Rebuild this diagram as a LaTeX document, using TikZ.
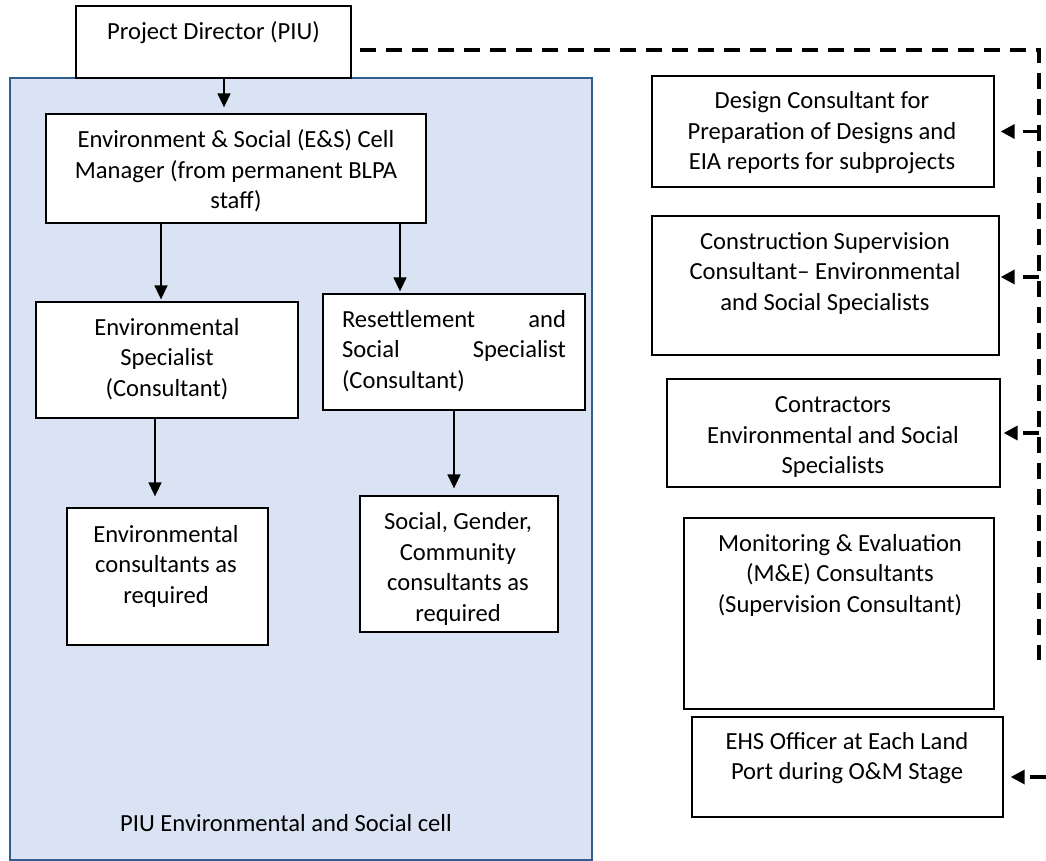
\documentclass[tikz,border=0pt]{standalone}
\usepackage{fontspec}
\setmainfont{Carlito}
\usetikzlibrary{arrows.meta}
\definecolor{cellfill}{RGB}{218,227,243}
\definecolor{celledge}{RGB}{52,92,145}

\begin{document}
\begin{tikzpicture}[x=1pt,y=-1pt,
  box/.style={draw=black, line width=1.3pt, fill=white, inner sep=0pt},
  txt/.style={align=center, inner sep=0pt, font=\fontsize{24.6}{30.5}\selectfont},
  solidarrow/.style={line width=1.5pt, -{Triangle[length=14pt,width=13pt]}},
  dashline/.style={line width=3.3pt, dash pattern=on 16pt off 10pt},
  dasharrow/.style={dashline, -{Triangle[length=14pt,width=14pt]}}]
\useasboundingbox (0,0) rectangle (1046,861);

% PIU environmental and social cell (shaded container)
\node[draw=celledge, fill=cellfill, line width=1.6pt, inner sep=0pt,
      minimum width=582, minimum height=782] (cell) at (301,469) {};
\node[txt] (celllabel) at (286,823) {PIU Environmental and Social cell};

% Project director
\node[box, minimum width=275, minimum height=72] (pd) at (213.5,42) {};
\node[txt] (pdt) at (213.5,33) {Project Director (PIU)};

% Cell hierarchy
\node[box, minimum width=380, minimum height=109] (mgr) at (236,168.5) {};
\node[txt] (mgrt) at (236,171) {Environment \& Social (E\&S) Cell\\Manager (from permanent BLPA\\staff)};

\node[box, minimum width=262, minimum height=116] (envs) at (167,360) {};
\node[txt] (envst) at (167,359) {Environmental\\Specialist\\(Consultant)};

\node[box, minimum width=262, minimum height=116] (res) at (454,352) {};
\node[txt, align=left, text width=224pt] (rest) at (454,351)
  {Resettlement\hfill and\\Social\hfill Specialist\\(Consultant)};

\node[box, minimum width=201, minimum height=137] (envc) at (167.5,576.5) {};
\node[txt] (envct) at (166,566) {Environmental\\consultants as\\required};

\node[box, minimum width=198, minimum height=136] (soc) at (459,564) {};
\node[txt] (soct) at (458,569) {Social, Gender,\\Community\\consultants as\\required};

% Consultants outside the cell
\node[box, minimum width=342, minimum height=111] (des) at (823,131.5) {};
\node[txt] (dest) at (822,133) {Design Consultant for\\Preparation of Designs and\\EIA reports for subprojects};

\node[box, minimum width=347, minimum height=139] (con) at (825.5,285.5) {};
\node[txt] (cont) at (825,273) {Construction Supervision\\Consultant-- Environmental\\and Social Specialists};

\node[box, minimum width=333, minimum height=108] (ctr) at (833.5,433) {};
\node[txt] (ctrt) at (833,437) {Contractors\\Environmental and Social\\Specialists};

\node[box, minimum width=310, minimum height=191] (me) at (839,613.5) {};
\node[txt] (met) at (840,575) {Monitoring \& Evaluation\\(M\&E) Consultants\\(Supervision Consultant)};

\node[box, minimum width=311, minimum height=100] (ehs) at (847.5,767) {};
\node[txt] (ehst) at (847,758) {EHS Officer at Each Land\\Port during O\&M Stage};

% Reporting lines inside the cell
\draw[solidarrow, shorten >=6pt] ([xshift=10.5pt]pd.south) -- ([xshift=-12pt]mgr.north);
\draw[solidarrow, shorten >=2pt] ([xshift=-75pt]mgr.south) -- ([xshift=-6pt]envs.north);
\draw[solidarrow, shorten >=2pt] ([xshift=164pt]mgr.south) -- ([xshift=-54pt]res.north);
\draw[solidarrow, shorten >=11pt] ([xshift=-12pt]envs.south) -- ([xshift=-12.5pt]envc.north);
\draw[solidarrow, shorten >=7pt] (res.south) -- ([xshift=-5pt]soc.north);

% Dashed coordination line from the project director
\coordinate (dstart) at (360,50);
\coordinate (dcorner) at (1039,50);
\coordinate (dend) at (1039,660);
\coordinate (dfree) at (1046,777);
\draw[dashline] (dstart) -- (dcorner) -- (dend);

\path ([yshift=8.5pt]con.east) coordinate (conin);
\path ([yshift=-10pt]ehs.east) coordinate (ehsin);
\draw[dasharrow, shorten >=6pt] (des.east -| dcorner) -- (des.east);
\draw[dasharrow, shorten >=1pt] (conin -| dcorner) -- (conin);
\draw[dasharrow, shorten >=3pt] (ctr.east -| dcorner) -- (ctr.east);
\draw[dasharrow, shorten >=7pt] (dfree) -- (ehsin);
\end{tikzpicture}
\end{document}
